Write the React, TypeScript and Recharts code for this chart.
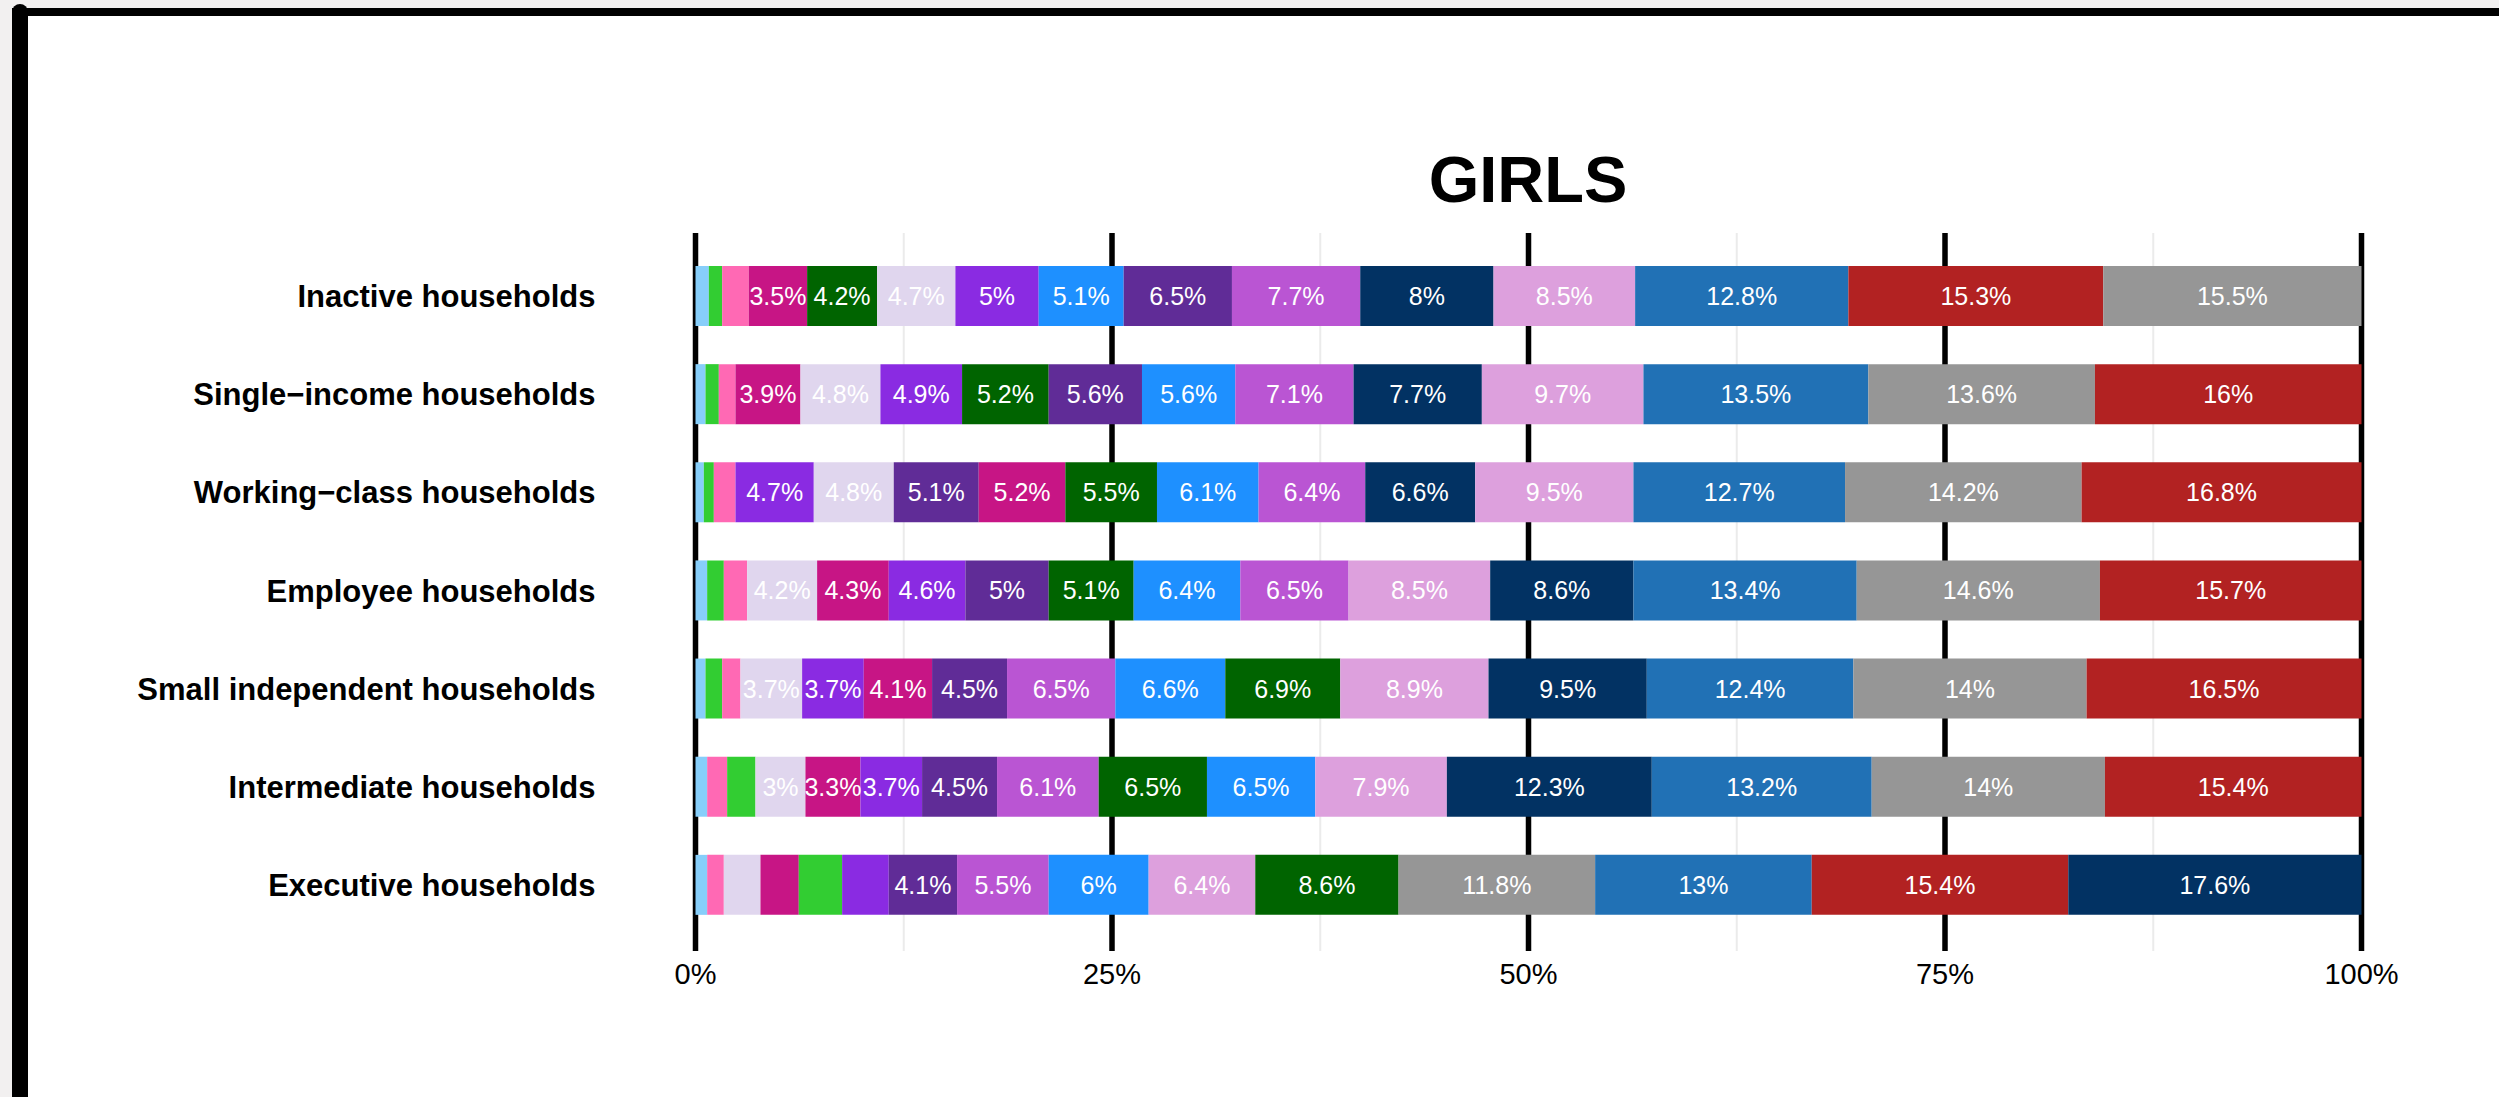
import { BarChart, Bar, XAxis, YAxis, CartesianGrid, Cell, LabelList } from "recharts";

const FONT = "'Liberation Sans', Arial, Helvetica, sans-serif";

// household types, top to bottom
const rowNames = [
    "Inactive households",
    "Single\u2212income households",
    "Working\u2212class households",
    "Employee households",
    "Small independent households",
    "Intermediate households",
    "Executive households",
];

// one colour per category (no legend in the original)
const catColors = [
    "#87cefa", // light sky blue
    "#32cd32", // lime green
    "#ff69b4", // hot pink
    "#c71585", // medium violet red
    "#006400", // dark green
    "#e0d6ee", // lavender
    "#8a2be2", // blue violet
    "#602c97", // purple
    "#1e90ff", // dodger blue
    "#ba55d3", // medium orchid
    "#023263", // navy
    "#dda0dd", // plum
    "#2171b5", // steel blue
    "#b22222", // firebrick
    "#969696", // grey
];

// shares (%) per category, same order as catColors
const inactive = [0.8, 0.8, 1.6, 3.5, 4.2, 4.7, 5, 6.5, 5.1, 7.7, 8, 8.5, 12.8, 15.3, 15.5];
const singleIncome = [0.6, 0.8, 1.0, 3.9, 5.2, 4.8, 4.9, 5.6, 5.6, 7.1, 7.7, 9.7, 13.5, 16, 13.6];
const workingClass = [0.5, 0.6, 1.3, 5.2, 5.5, 4.8, 4.7, 5.1, 6.1, 6.4, 6.6, 9.5, 12.7, 16.8, 14.2];
const employee = [0.7, 1.0, 1.4, 4.3, 5.1, 4.2, 4.6, 5, 6.4, 6.5, 8.6, 8.5, 13.4, 15.7, 14.6];
const smallIndependent = [0.6, 1.0, 1.1, 4.1, 6.9, 3.7, 3.7, 4.5, 6.6, 6.5, 9.5, 8.9, 12.4, 16.5, 14];
const intermediate = [0.7, 1.7, 1.2, 3.3, 6.5, 3, 3.7, 4.5, 6.5, 6.1, 12.3, 7.9, 13.2, 15.4, 14];
const executive = [0.7, 2.6, 1.0, 2.3, 8.6, 2.2, 2.8, 4.1, 6, 5.5, 17.6, 6.4, 13, 15.4, 11.8];

const rowValues = [inactive, singleIncome, workingClass, employee, smallIndependent, intermediate, executive];

const xTicks = [0, 25, 50, 75, 100];
const minorTicks = [12.5, 37.5, 62.5, 87.5];

// each row is stacked from smallest to largest share, so series are "ranks"
const nSlots = catColors.length;
const chartData = rowNames.map((name, r) => {
    const vals = rowValues[r];
    const order = vals.map((_, i) => i).sort((a, b) => vals[a] - vals[b]);
    const row: Record<string, any> = { name };
    order.forEach((cat, k) => {
        row[`s${k}`] = vals[cat];
        row[`c${k}`] = catColors[cat];
    });
    return row;
});

const fmt = (v: number) => `${+v.toFixed(1)}%`;

const renderLabel = (props: any) => {
    const box = props.viewBox ?? props;
    const { x, y, width, height } = box;
    const value = props.value;
    if (value == null || value < 3) return null;
    return (
        <text
            x={x + width / 2}
            y={y + height / 2}
            dy="0.36em"
            textAnchor="middle"
            fill="#ffffff"
            fontSize={25}
            fontFamily={FONT}
        >
            {fmt(value)}
        </text>
    );
};

export default function App() {
    return (
        <div style={{ position: "fixed", left: 0, top: 0, width: 2499, height: 1097, background: "#f2f0f0", overflow: "hidden" }}>
            <div style={{ position: "absolute", left: 28, top: 16, right: 0, bottom: 0, background: "#fff" }} />
            <div style={{ position: "absolute", left: 12, top: 8, right: 0, height: 8, background: "#000" }} />
            <div style={{ position: "absolute", left: 12, top: 4, width: 16, bottom: 0, background: "#000", borderRadius: "8px 8px 0 0" }} />
            <div
                style={{
                    position: "absolute", left: 1228, top: 147, width: 600, textAlign: "center",
                    fontFamily: FONT, fontWeight: "bold", fontSize: 65, lineHeight: 1, color: "#000",
                }}
            >
                GIRLS
            </div>
            <div style={{ position: "absolute", left: 0, top: 0 }}>
                <BarChart
                    width={2499}
                    height={1097}
                    data={chartData}
                    layout="vertical"
                    margin={{ top: 233, right: 137.5, bottom: 86, left: 295.5 }}
                >
                    <CartesianGrid xAxisId="minor" horizontal={false} stroke="#ebebeb" strokeWidth={2} />
                    <CartesianGrid horizontal={false} stroke="#000" strokeWidth={5.5} />
                    <XAxis
                        type="number"
                        domain={[0, 100]}
                        ticks={xTicks}
                        interval={0}
                        tickFormatter={(v) => `${v}%`}
                        axisLine={false}
                        tickLine={false}
                        tickSize={0}
                        tickMargin={12}
                        height={60}
                        tick={{ fill: "#000", fontSize: 29, fontFamily: FONT }}
                    />
                    <XAxis
                        xAxisId="minor"
                        type="number"
                        domain={[0, 100]}
                        allowDataOverflow
                        ticks={minorTicks}
                        hide
                    />
                    <YAxis
                        type="category"
                        dataKey="name"
                        width={400}
                        axisLine={false}
                        tickLine={false}
                        tickSize={0}
                        tickMargin={100}
                        padding={{ top: 14, bottom: 17 }}
                        interval={0}
                        tick={{ fill: "#000", fontSize: 31, fontWeight: "bold", fontFamily: FONT }}
                    />
                    {Array.from({ length: nSlots }, (_, i) => (
                        <Bar key={i} dataKey={`s${i}`} stackId="a" barSize={60} isAnimationActive={false}>
                            {chartData.map((row, r) => (
                                <Cell key={r} fill={row[`c${i}`]} />
                            ))}
                            <LabelList dataKey={`s${i}`} content={renderLabel} />
                        </Bar>
                    ))}
                </BarChart>
            </div>
        </div>
    );
}
